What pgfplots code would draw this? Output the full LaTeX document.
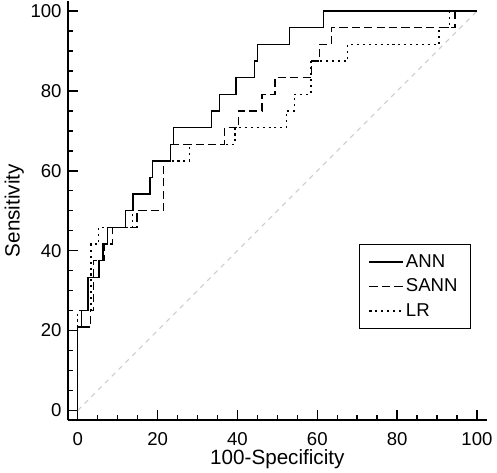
\documentclass[border=0pt]{standalone}
\usepackage{fontspec}
\setmainfont{Liberation Sans}
\usepackage{pgfplots}
\pgfplotsset{compat=1.18}

\begin{document}
\begin{tikzpicture}
\begin{axis}[
    width=304.5pt, height=304.5pt,
    scale only axis,
    xmin=-2.5, xmax=102.5,
    ymin=-2.5, ymax=102.5,
    axis x line=bottom, axis y line=left,
    axis line style={-, line width=1.4pt},
    xtick={0,20,...,100}, ytick={0,20,...,100},
    minor tick num=3,
    tick align=inside,
    major tick length=7.5pt, minor tick length=4pt,
    tick style={line width=1pt, black},
    /pgf/number format/assume math mode=true,
    tick label style={font=\fontsize{13.5}{16}\selectfont},
    xticklabel style={yshift=-5pt},
    yticklabel style={xshift=-1pt},
    xlabel={100-Specificity},
    ylabel={Sensitivity},
    label style={font=\fontsize{15}{18}\selectfont},
    xlabel style={yshift=4pt},
    ylabel style={yshift=-2pt},
    legend style={at={(0.9606,0.219)}, anchor=south east, draw=black,
        line width=0.6pt, font=\fontsize{13.5}{16}\selectfont,
        inner xsep=7pt, inner ysep=5pt, row sep=3pt},
    legend cell align=left,
    legend image code/.code={\draw[#1] (0pt,0pt) -- (24pt,0pt);},
]
% reference diagonal
\addplot[gray!40, line width=0.7pt, dash pattern=on 3.5pt off 3.5pt, forget plot]
    coordinates {(0,0) (100,100)};

% ANN
\addplot[black, line width=1pt] coordinates {
(0,0)(0,20.83)(1,20.83)(1,25)(2.6,25)(2.6,33.33)(5.3,33.33)(5.3,37.5)
(6.3,37.5)(6.3,41.67)(7.4,41.67)(7.4,45.83)(12,45.83)(12,50)(13.8,50)
(13.8,54.17)(18.1,54.17)(18.1,58.33)(18.7,58.33)(18.7,62.5)(23.3,62.5)
(23.3,66.67)(24,66.67)(24,70.83)(33.5,70.83)(33.5,75)(35.5,75)(35.5,79.17)
(39.6,79.17)(39.6,83.33)(44.3,83.33)(44.3,87.5)(45,87.5)(45,91.67)
(53,91.67)(53,95.83)(61.6,95.83)(61.6,100)(100,100)};
\addlegendentry{ANN}

% SANN
\addplot[black, line width=1pt, dash pattern=on 6pt off 3pt] coordinates {
(0,0)(0,20.83)(3.2,20.83)(3.2,25)(4,25)(4,37.5)(6.6,37.5)(6.6,41.67)
(8.7,41.67)(8.7,45.83)(14.8,45.83)(14.8,50)(21.5,50)(21.5,62.5)(23.3,62.5)
(23.3,66.67)(36.8,66.67)(36.8,70.83)(40.2,70.83)(40.2,75)(46.2,75)
(46.2,79.17)(49.4,79.17)(49.4,83.33)(58.6,83.33)(58.6,87.5)(60.5,87.5)
(60.5,91.67)(63.5,91.67)(63.5,95.83)(94.5,95.83)(94.5,100)(100,100)};
\addlegendentry{SANN}

% LR
\addplot[black, line width=1pt, dash pattern=on 1.5pt off 2.8pt] coordinates {
(0,0)(0,25)(3.3,25)(3.3,41.67)(5.2,41.67)(5.2,45.83)(13.7,45.83)(13.7,54.17)
(18.1,54.17)(18.1,58.33)(18.7,58.33)(18.7,62.5)(28,62.5)(28,66.67)
(39.4,66.67)(39.4,70.83)(52.3,70.83)(52.3,75)(54.3,75)(54.3,79.17)
(58.4,79.17)(58.4,87.5)(67.6,87.5)(67.6,91.67)(90.5,91.67)(90.5,95.83)
(93.2,95.83)(93.2,100)(100,100)};
\addlegendentry{LR}
\end{axis}
\end{tikzpicture}
\end{document}
